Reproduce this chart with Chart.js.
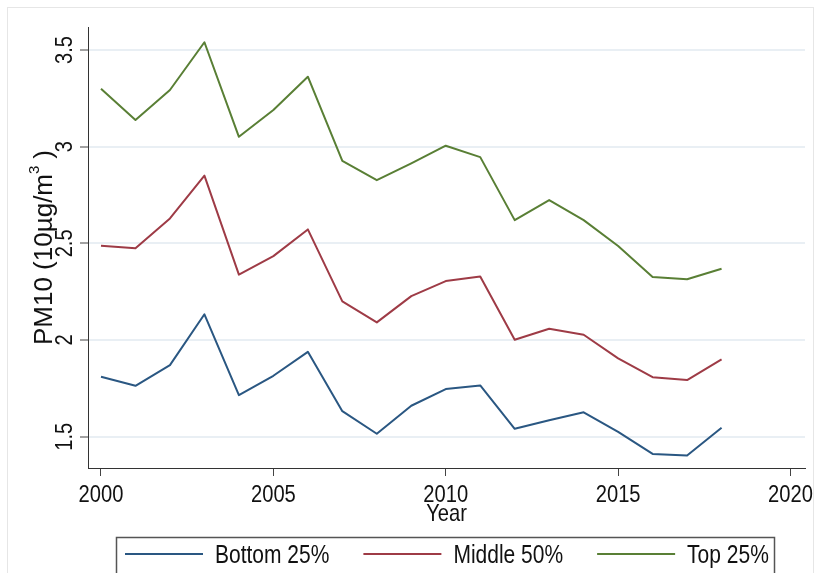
<!DOCTYPE html>
<html>
<head>
<meta charset="utf-8">
<title>PM10 by year</title>
<script src="https://cdn.jsdelivr.net/npm/chart.js@4.4.1/dist/chart.umd.min.js"></script>
<style>
  html, body { margin: 0; padding: 0; background: #fff; }
  #wrap { width: 821px; height: 573px; }
</style>
</head>
<body>
<div id="wrap"><canvas id="pmChart" width="821" height="573"></canvas></div>
<script>
// yearly PM10 means by group, in units of 10 µg/m3
const years = [2000, 2001, 2002, 2003, 2004, 2005, 2006, 2007, 2008, 2009,
               2010, 2011, 2012, 2013, 2014, 2015, 2016, 2017, 2018];
const bottom25 = [1.81, 1.763, 1.87, 2.133, 1.715, 1.815, 1.939, 1.632, 1.515, 1.66,
                  1.746, 1.765, 1.541, 1.585, 1.626, 1.525, 1.411, 1.403, 1.546];
const middle50 = [2.488, 2.474, 2.629, 2.85, 2.338, 2.434, 2.572, 2.2, 2.091, 2.227,
                  2.305, 2.329, 2.001, 2.058, 2.027, 1.905, 1.808, 1.793, 1.9];
const top25 = [3.3, 3.138, 3.293, 3.54, 3.051, 3.19, 3.362, 2.926, 2.827, 2.914,
               3.005, 2.946, 2.62, 2.724, 2.62, 2.486, 2.326, 2.314, 2.369];

const seriesNames = ['Bottom 25%', 'Middle 50%', 'Top 25%'];
const xTicks = [2000, 2005, 2010, 2015, 2020];
const yTicks = [1.5, 2, 2.5, 3, 3.5];
const yTickLabels = ['1.5', '2', '2.5', '3', '3.5'];

const FONT = '"Liberation Sans", Arial, sans-serif';
const SQUEEZE = 0.84; // narrow glyphs, like Stata's default font

function setFont(ctx, size) {
    ctx.font = size + 'px ' + FONT;
}

function textWidth(ctx, text, size, squeeze) {
    setFont(ctx, size);
    return ctx.measureText(text).width * (squeeze || SQUEEZE);
}

// draws condensed text; angle rotates around the anchor point
function drawText(ctx, text, x, y, size, align, angle, squeeze) {
    ctx.save();
    ctx.translate(x, y);
    if (angle) ctx.rotate(angle);
    ctx.scale(squeeze || SQUEEZE, 1);
    setFont(ctx, size);
    ctx.fillStyle = '#111';
    ctx.textAlign = align;
    ctx.textBaseline = 'alphabetic';
    ctx.fillText(text, 0, 0);
    ctx.restore();
}

// tick labels, axis titles, legend box and outer frame
const stataText = {
    id: 'stataText',
    afterDraw(chart) {
        const ctx = chart.ctx;
        const xs = chart.scales.x;
        const ys = chart.scales.y;
        const area = chart.chartArea;

        ctx.save();
        ctx.strokeStyle = '#e6e6e6';
        ctx.lineWidth = 1;
        ctx.strokeRect(7.5, 7.5, 806, 620);
        ctx.restore();

        yTicks.forEach((v, i) => {
            drawText(ctx, yTickLabels[i], 72, ys.getPixelForValue(v), 24, 'center', -Math.PI / 2);
        });
        xTicks.forEach(v => {
            drawText(ctx, String(v), xs.getPixelForValue(v), 502, 24, 'center');
        });

        // x title
        drawText(ctx, 'Year', (area.left + area.right) / 2, 521, 24, 'center');

        // y title with superscript 3, reading upward
        const up = -Math.PI / 2;
        const main = 'PM10 (10µg/m';
        const wMain = textWidth(ctx, main, 26, 1);
        const wSup = textWidth(ctx, '3', 15, 1);
        const wEnd = textWidth(ctx, ')', 26, 1);
        const gap = 7;
        const total = wMain + wSup + gap + wEnd;
        const cy = (area.top + area.bottom) / 2;
        const base = 52;
        let pos = cy + total / 2;
        drawText(ctx, main, base, pos, 26, 'left', up, 1);
        pos -= wMain;
        drawText(ctx, '3', base - 13, pos, 15, 'left', up, 1);
        pos -= wSup + gap;
        drawText(ctx, ')', base, pos, 26, 'left', up, 1);

        // legend
        ctx.save();
        ctx.strokeStyle = '#555';
        ctx.lineWidth = 1.5;
        ctx.strokeRect(116.5, 537.5, 658, 60);
        ctx.restore();

        let lx = 125;
        const ly = 554;
        chart.data.datasets.forEach(ds => {
            ctx.save();
            ctx.strokeStyle = ds.borderColor;
            ctx.lineWidth = 2;
            ctx.beginPath();
            ctx.moveTo(lx, ly);
            ctx.lineTo(lx + 78, ly);
            ctx.stroke();
            ctx.restore();
            drawText(ctx, ds.label, lx + 90, ly + 9, 25, 'left');
            lx += 90 + textWidth(ctx, ds.label, 25) + 34;
        });
    }
};

function toPoints(values) {
    return years.map((yr, i) => ({ x: yr, y: values[i] }));
}

const ctx = document.getElementById('pmChart').getContext('2d');
const pmChart = new Chart(ctx, {
    type: 'line',
    data: {
        datasets: [
            {
                label: seriesNames[0],
                data: toPoints(bottom25),
                borderColor: '#2a5782',
                borderWidth: 2
            },
            {
                label: seriesNames[1],
                data: toPoints(middle50),
                borderColor: '#9e3b46',
                borderWidth: 2
            },
            {
                label: seriesNames[2],
                data: toPoints(top25),
                borderColor: '#597f35',
                borderWidth: 2
            }
        ]
    },
    options: {
        responsive: false,
        animation: false,
        devicePixelRatio: 1,
        elements: {
            point: { radius: 0 },
            line: { tension: 0, borderJoinStyle: 'round' }
        },
        layout: {
            padding: { top: 27, right: 16, bottom: 45, left: 0 }
        },
        plugins: {
            legend: { display: false },
            tooltip: { enabled: false }
        },
        scales: {
            x: {
                type: 'linear',
                min: 1999.623,
                max: 2020.42,
                afterBuildTicks: s => { s.ticks = xTicks.map(v => ({ value: v })); },
                afterFit: s => { s.height = 60; },
                ticks: { display: false },
                grid: {
                    drawOnChartArea: false,
                    drawTicks: true,
                    tickLength: 8,
                    tickColor: '#444',
                    tickWidth: 1
                },
                border: { display: true, color: '#333', width: 1 }
            },
            y: {
                type: 'linear',
                min: 1.338,
                max: 3.619,
                afterBuildTicks: s => { s.ticks = yTicks.map(v => ({ value: v })); },
                afterFit: s => { s.width = 88; },
                ticks: { display: false },
                grid: {
                    color: '#e9eff4',
                    lineWidth: 2,
                    drawTicks: true,
                    tickLength: 8,
                    tickColor: '#444',
                    tickWidth: 1
                },
                border: { display: true, color: '#333', width: 1 }
            }
        }
    },
    plugins: [stataText]
});
</script>
</body>
</html>
